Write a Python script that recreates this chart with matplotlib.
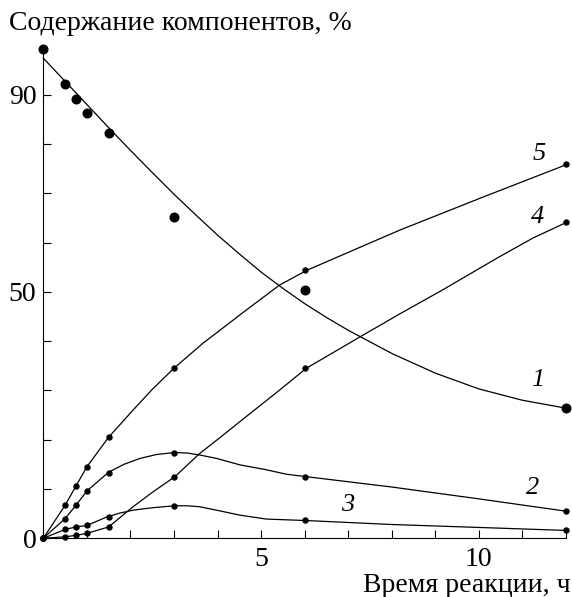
import numpy as np
import matplotlib
matplotlib.use("Agg")
import matplotlib.pyplot as plt
from matplotlib.ticker import FixedLocator

plt.rcParams['font.family'] = ['Liberation Serif', 'DejaVu Serif']

#######################
# Data.
# # # # # # # # # # # #
# measurement times, h
t_pts = [0, 0.5, 0.75, 1.0, 1.5, 3.0, 6.0, 12.0]

# measured points (%)
c1_pts = [99.2, 92.1, 89.2, 86.2, 82.2, 65.2, 50.4, 26.4]
c2_pts = [0, 4.0, 6.7, 9.6, 13.3, 17.4, 12.4, 5.5]
c3_pts = [0, 1.8, 2.3, 2.6, 4.3, 6.6, 3.7, 1.6]
c4_pts = [0, 0.3, 0.6, 1.0, 2.3, 12.4, 34.5, 64.2]
c5_pts = [0, 6.7, 10.6, 14.5, 20.5, 34.5, 54.4, 75.9]

# drawn curves
c1_tx = [0, 0.5, 1.0, 1.5, 2.0, 2.5, 3.0, 3.5, 4.0, 4.5, 5.0, 5.5, 6.0, 6.5,
         7.0, 8.0, 9.0, 10.0, 11.0, 12.0]
c1_ty = [97.4, 92.7, 88.0, 83.3, 78.7, 74.2, 69.8, 65.6, 61.5, 57.7, 54.0,
         50.7, 47.6, 44.8, 42.2, 37.5, 33.5, 30.3, 28.0, 26.4]

c2_tx = [0, 0.5, 0.75, 1.0, 1.5, 1.85, 2.22, 2.6, 3.02, 3.3, 3.59, 3.98,
         4.51, 5.12, 5.58, 6.04, 8.0, 10.0, 12.0]
c2_ty = [0, 4.0, 6.7, 9.6, 13.4, 15.0, 16.2, 17.0, 17.4, 17.3, 16.9, 16.2,
         14.9, 13.9, 13.0, 12.5, 10.4, 8.0, 5.5]

c3_tx = [0, 0.5, 0.75, 1.0, 1.45, 1.75, 2.06, 2.5, 3.02, 3.3, 3.59, 3.98,
         4.51, 5.12, 6.04, 8.0, 10.0, 12.0]
c3_ty = [0, 1.8, 2.3, 2.6, 4.3, 5.1, 5.7, 6.2, 6.6, 6.6, 6.4, 5.7,
         4.7, 3.9, 3.6, 2.8, 2.2, 1.6]

c4_tx = [0, 0.5, 0.75, 1.0, 1.5, 2.06, 2.5, 3.02, 3.59, 3.98, 4.66, 5.43,
         6.04, 7.26, 8.2, 9.17, 10.47, 11.24, 12.04]
c4_ty = [0, 0.3, 0.6, 1.0, 2.3, 6.4, 9.3, 12.5, 17.2, 19.9, 24.7, 30.1,
         34.5, 40.8, 45.6, 50.4, 57.1, 60.9, 64.2]

c5_tx = [0, 0.5, 0.75, 1.0, 1.5, 2.06, 2.5, 3.0, 3.67, 4.66, 5.43, 6.06,
         8.18, 10.09, 12.04]
c5_ty = [0, 6.7, 10.6, 14.5, 20.5, 26.0, 30.2, 34.5, 39.6, 46.3, 51.4, 54.4,
         62.5, 69.2, 75.9]

# curve numbers and where they sit
lab_txt = ['1', '2', '3', '4', '5']
lab_x = [11.35, 11.23, 6.99, 11.35, 11.39]
lab_y = [32.1, 10.2, 6.8, 65.2, 78.0]
#######################

W, H = 572, 597
fig = plt.figure(figsize=(W / 100., H / 100.), dpi=100)
ax = fig.add_axes([43.3 / W, 1 - 538.3 / H, 522.7 / W, 493.0 / H])

lw = 0.9
for tx, ty in [(c1_tx, c1_ty), (c2_tx, c2_ty), (c3_tx, c3_ty),
               (c4_tx, c4_ty), (c5_tx, c5_ty)]:
    ax.plot(tx, ty, color='black', lw=lw, clip_on=False,
            solid_joinstyle='round')

# small dots
for ys in [c2_pts, c3_pts, c4_pts, c5_pts]:
    ax.plot(t_pts, ys, 'o', color='black', ms=3.6, clip_on=False, zorder=5)
# big dots of curve 1
ax.plot(t_pts, c1_pts, 'o', color='black', ms=6.2, clip_on=False, zorder=5)

for s, x, y in zip(lab_txt, lab_x, lab_y):
    ax.text(x, y, s, fontsize=19, style='italic', ha='center', va='center')

ax.set_xlim(0, 12)
ax.set_ylim(0, 100)
ax.spines['top'].set_visible(False)
ax.spines['right'].set_visible(False)
ax.spines['left'].set_bounds(0, 99)
for sp in ['left', 'bottom']:
    ax.spines[sp].set_linewidth(0.8)

ax.xaxis.set_major_locator(FixedLocator([0, 5, 10]))
ax.xaxis.set_minor_locator(FixedLocator([1, 2, 3, 4, 6, 7, 8, 9, 11, 12]))
ax.yaxis.set_major_locator(FixedLocator([0, 50, 90]))
ax.yaxis.set_minor_locator(FixedLocator([10, 20, 30, 40, 60, 70, 80]))
ax.set_xticklabels(['', '5', '10'])
ax.set_yticklabels(['0', '50', '90'])
ax.tick_params(which='both', direction='in', length=6, width=0.8,
               labelsize=20)
ax.tick_params(axis='x', pad=6)
ax.tick_params(axis='y', pad=5)

fig.text(9 / W, 1 - 24 / H, 'Содержание компонентов, %', fontsize=20,
         ha='left', va='center')
fig.text(571 / W, 1 - 586 / H, 'Время реакции, ч', fontsize=20,
         ha='right', va='center')

fig.savefig('out.png', dpi=100)
